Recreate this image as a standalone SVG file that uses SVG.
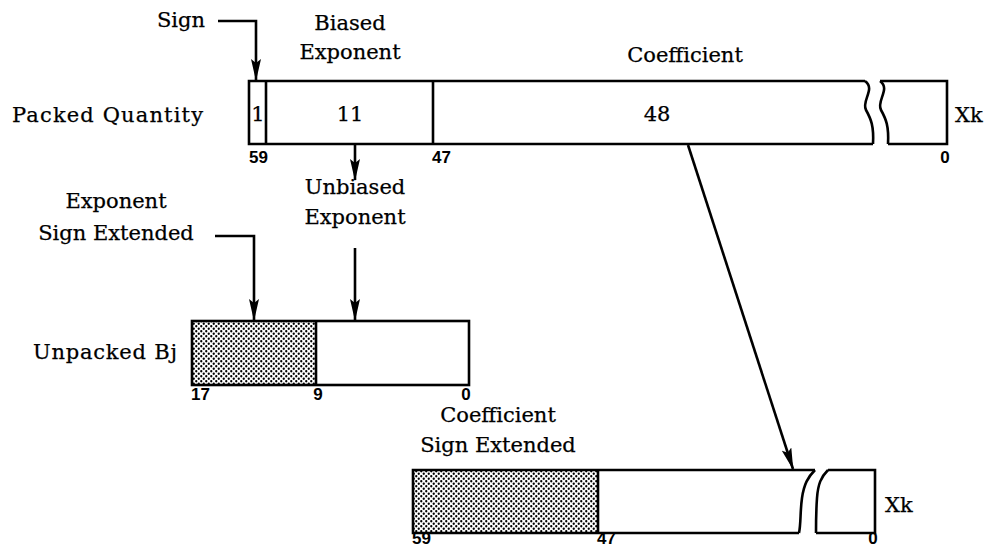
<svg xmlns="http://www.w3.org/2000/svg" width="1000" height="548" viewBox="0 0 1000 548">
  <style>
    .lbl { font-family: "DejaVu Serif", "Liberation Serif", serif; font-size: 21px; fill: #000; stroke: #000; stroke-width: 0.25; }
    .mid { text-anchor: middle; }
    .bit { font-family: "Liberation Sans", Arial, sans-serif; font-size: 17px; font-weight: bold; fill: #000; }
    .box { fill: none; stroke: #000; stroke-width: 2.6; stroke-linejoin: miter; }
    .conn { fill: none; stroke: #000; stroke-width: 2.6; }
  </style>
  <defs>
    <pattern id="dots" patternUnits="userSpaceOnUse" width="5" height="5">
      <rect width="5" height="5" fill="#fff"/>
      <circle cx="1.25" cy="1.25" r="1.15" fill="#000"/>
      <circle cx="3.75" cy="3.75" r="1.15" fill="#000"/>
    </pattern>
    <marker id="head" markerUnits="userSpaceOnUse" viewBox="0 0 22 10" refX="21" refY="5" markerWidth="22" markerHeight="10" orient="auto">
      <path d="M0,0 L22,5 L0,10 L4,5 z" fill="#000"/>
    </marker>
  </defs>

  <!-- Packed quantity register -->
  <g id="packed">
    <text class="lbl" x="12" y="122" textLength="191">Packed Quantity</text>
    <path class="box" d="M865 81 H249 V144 H873"/>
    <path class="box" d="M865 81 C876 89 861 101 866 110 C871 119 874 126 873 144"/>
    <path class="box" d="M880 81 C891 89 876 101 881 110 C886 119 889 126 888 144"/>
    <path class="box" d="M880 81 H947 V144 H888"/>
    <line class="box" x1="266" y1="81" x2="266" y2="144"/>
    <line class="box" x1="433" y1="81" x2="433" y2="144"/>
    <text class="lbl mid" x="258" y="121">1</text>
    <text class="lbl mid" x="350" y="121">11</text>
    <text class="lbl mid" x="657" y="121">48</text>
    <text class="lbl" x="955" y="122">Xk</text>
    <text class="bit" x="249" y="163">59</text>
    <text class="bit" x="432" y="163">47</text>
    <text class="bit mid" x="945" y="163">0</text>
  </g>

  <!-- Field captions -->
  <g id="sign-label">
    <text class="lbl" x="205" y="27" text-anchor="end">Sign</text>
  </g>
  <g id="biased-label">
    <text class="lbl mid" x="350" y="30">Biased</text>
    <text class="lbl mid" x="350" y="59">Exponent</text>
  </g>
  <g id="coeff-label">
    <text class="lbl mid" x="685" y="62">Coefficient</text>
  </g>
  <g id="unbiased-label">
    <text class="lbl mid" x="355" y="194">Unbiased</text>
    <text class="lbl mid" x="355" y="224">Exponent</text>
  </g>
  <g id="expsign-label">
    <text class="lbl mid" x="116" y="208">Exponent</text>
    <text class="lbl mid" x="116" y="240">Sign Extended</text>
  </g>

  <!-- Unpacked exponent register -->
  <g id="unpacked-bj">
    <text class="lbl" x="33" y="359" textLength="144">Unpacked Bj</text>
    <rect x="192" y="321" width="124" height="64" fill="url(#dots)"/>
    <rect class="box" x="192" y="321" width="277" height="64"/>
    <line class="box" x1="316" y1="321" x2="316" y2="385"/>
    <text class="bit" x="191" y="400">17</text>
    <text class="bit mid" x="318" y="400">9</text>
    <text class="bit mid" x="466" y="400">0</text>
  </g>

  <!-- Unpacked coefficient register -->
  <g id="unpacked-xk">
    <text class="lbl mid" x="498" y="422">Coefficient</text>
    <text class="lbl mid" x="498" y="452">Sign Extended</text>
    <rect x="413" y="470" width="185" height="63" fill="url(#dots)"/>
    <path class="box" d="M815 470 H413 V533 H799"/>
    <path class="box" d="M815 470 C808 477 804 484 802 498 C800 512 801 524 799 533"/>
    <path class="box" d="M828 470 C821 477 818 484 817 498 C816 512 816 524 816 533"/>
    <path class="box" d="M828 470 H875 V533 H816"/>
    <line class="box" x1="598" y1="470" x2="598" y2="533"/>
    <text class="lbl" x="885" y="512">Xk</text>
    <text class="bit" x="412" y="544">59</text>
    <text class="bit" x="597" y="544">47</text>
    <text class="bit mid" x="873" y="544">0</text>
  </g>

  <!-- Connectors -->
  <g id="connectors">
    <path class="conn" d="M218 21 H256 V80" marker-end="url(#head)"/>
    <path class="conn" d="M355 145 V180" marker-end="url(#head)"/>
    <path class="conn" d="M215 236 H254 V320" marker-end="url(#head)"/>
    <path class="conn" d="M355 248 V320" marker-end="url(#head)"/>
    <path class="conn" d="M688 145 L793 469" marker-end="url(#head)"/>
  </g>
</svg>
